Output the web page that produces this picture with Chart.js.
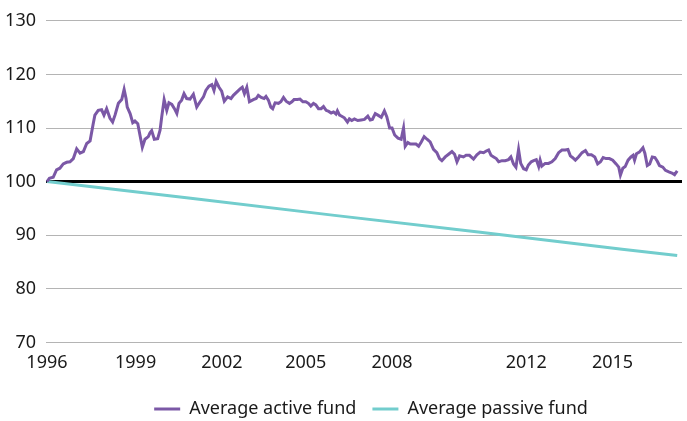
<!DOCTYPE html>
<html>
<head>
<meta charset="utf-8">
<script src="https://cdn.jsdelivr.net/npm/chart.js@4"></script>
<style>
html,body{margin:0;padding:0;background:#fff}
#wrap{width:687px;height:421px;position:relative}
</style>
</head>
<body>
<div id="wrap"><canvas id="c"></canvas></div>
<script>
// Months since Jan 1996 and index values
const activeMonths = [0,1,2.6,4,5.4,6.8,8.2,9.6,11,12.4,13.8,15.2,16.6,18,19.3,20,21.4,22.8,23.8,24.9,26.3,27.4,28.4,29.8,31.2,32.2,33,33.5,34.7,35.8,36.7,37.9,38.8,39.8,40.9,42.3,43,43.7,44.8,46.2,47.2,47.9,48.9,50,50.9,52.1,53.2,54.2,55.1,56.2,57.2,58.3,59.7,61.1,62.5,63.9,65.3,66.3,67.6,68.8,69.7,70.6,71.8,72.9,74,75.4,76.8,77.8,79.2,80.6,81.5,82.4,83.4,84.5,86.1,87.3,88.2,89.4,90.6,91.4,92.4,93.4,94.2,95.2,96.6,97.6,98.7,99.8,101.2,102.2,103.1,104.5,105.6,106.8,108,109.1,110.1,111.2,112.2,113.3,114.4,115.4,116.5,117.6,118.6,119.6,120.6,121.2,122.1,123,124.1,125.4,126.2,127.2,128.3,129.7,131.1,132.5,133.9,134.9,135.8,137,138.1,139.5,140.8,141.8,143,144,145.1,146.5,147.8,148.8,149.5,150.6,151.6,153,154,155.1,156.2,157.4,158.6,159.9,161.3,162.7,163.8,164.8,166.2,167.6,169,170.1,171.1,172.2,173.8,174.9,176.3,178,179.4,180.8,182.2,183.3,184.3,185.3,186.4,187.5,188.5,189.9,191.2,192.6,193.6,194.7,195.7,196.8,197.7,198.9,200,200.9,202.1,203.1,204.2,205.2,205.8,206.5,207.9,209.3,210.7,212.1,213.5,214.9,216.3,217.4,218.4,219.3,220.5,221.8,223.3,224.7,225.8,227.2,228.6,229.8,231,232.1,233.3,234.7,236.1,237.5,238.6,239.3,240.3,241.3,242.5,243.7,244.6,245.2,246,247.2,248.7,249.5,250.5,251.5,252.6,253.7,254.7,255.6,257,258.1,259.5,260.8,261.9,263];
const activeValues = [100.0,100.6,100.8,102.2,102.5,103.3,103.6,103.7,104.3,106.1,105.3,105.6,107.1,107.6,110.8,112.4,113.3,113.4,112.4,113.6,111.8,111.1,112.4,114.6,115.3,117.2,115.5,113.9,112.7,111.0,111.3,110.8,108.7,106.4,107.9,108.4,109.1,109.5,107.9,108.0,109.6,112.1,115.3,113.3,114.7,114.4,113.6,112.7,114.6,115.2,116.4,115.5,115.4,116.3,113.9,114.9,115.8,117.0,117.8,118.1,117.0,118.7,117.6,116.9,115.0,115.8,115.5,116.1,116.7,117.3,117.6,116.4,117.6,114.9,115.3,115.5,116.1,115.7,115.5,115.9,115.2,113.9,113.6,114.7,114.6,114.9,115.7,115.0,114.6,114.9,115.3,115.3,115.4,114.9,114.9,114.6,114.1,114.6,114.3,113.6,113.6,114.0,113.3,113.1,112.8,113.0,112.6,113.2,112.4,112.2,111.9,111.1,111.7,111.4,111.7,111.4,111.5,111.6,112.2,111.5,111.6,112.7,112.4,112.0,113.2,112.1,110.0,110.0,108.7,108.1,107.9,110.0,106.6,107.3,107.0,107.0,107.0,106.6,107.4,108.4,107.9,107.4,106.0,105.4,104.3,103.9,104.6,105.1,105.6,105.1,103.7,104.8,104.6,104.9,104.9,104.2,105.0,105.5,105.4,105.7,105.9,104.9,104.6,104.3,103.7,103.9,103.9,104.1,104.6,103.3,102.7,106.0,103.4,102.4,102.2,103.1,103.7,103.9,104.1,102.8,104.0,102.9,103.4,103.4,103.7,104.3,105.4,105.9,105.9,106.0,104.8,104.5,104.0,104.6,105.4,105.8,105.0,105.0,104.6,103.3,103.7,104.5,104.3,104.3,104.0,103.3,102.7,101.2,102.5,102.8,104.0,104.6,104.9,104.0,105.2,105.5,106.3,105.3,103.0,103.3,104.6,104.5,103.8,103.0,102.7,102.1,101.8,101.6,101.3,102.0];
const passiveMonths = [0,60,120,180,240,263];
const passiveValues = [100,96.9,93.7,90.6,87.4,86.2];
const tickMonths = [0,37,73,108,144,200,236];
const tickLabels = ['1996','1999','2002','2005','2008','2012','2015'];
const yTicks = [70,80,90,100,110,120,130];
const seriesNames = ['Average active fund','Average passive fund'];

const toPoints = (xs, ys) => xs.map((x, i) => ({x: x, y: ys[i]}));
const FONT = "'Noto Sans', 'Open Sans', sans-serif";
const TXT = '#1a1a1a';

// The reference legend sits a little right of the canvas centre
const shiftLegend = {
  id: 'shiftLegend',
  afterLayout(chart) {
    const l = chart.legend;
    if (l) { l.left += 30; l.right += 30; }
  }
};

new Chart(document.getElementById('c'), {
  type: 'line',
  plugins: [shiftLegend],
  data: {
    datasets: [
      {label: seriesNames[0], data: toPoints(activeMonths, activeValues), borderColor: '#7b58a6', backgroundColor: '#7b58a6', borderWidth: 3, pointRadius: 0, tension: 0},
      {label: seriesNames[1], data: toPoints(passiveMonths, passiveValues), borderColor: '#72cdcd', backgroundColor: '#72cdcd', borderWidth: 3, pointRadius: 0, tension: 0}
    ]
  },
  options: {
    responsive: true,
    maintainAspectRatio: false,
    animation: false,
    devicePixelRatio: 1,
    layout: {padding: {top: 13.5, right: 5, left: 0, bottom: -7}},
    plugins: {
      tooltip: {enabled: false},
      legend: {
        position: 'bottom',
        labels: {
          usePointStyle: true, pointStyle: 'line', pointStyleWidth: 26,
          color: TXT, font: {family: FONT, size: 18}, padding: 16
        }
      }
    },
    scales: {
      x: {
        type: 'linear', min: -0.4, max: 265,
        grid: {display: false, drawTicks: false},
        border: {display: false},
        afterBuildTicks: (axis) => { axis.ticks = tickMonths.map(v => ({value: v})); },
        ticks: {
          autoSkip: false, maxRotation: 0, padding: 10,
          color: TXT, font: {family: FONT, size: 18},
          callback: (v) => { const i = tickMonths.indexOf(v); return i >= 0 ? tickLabels[i] : ''; }
        }
      },
      y: {
        min: 70, max: 130,
        afterBuildTicks: (axis) => { axis.ticks = yTicks.map(v => ({value: v})); },
        afterFit: (s) => { s.width = 46; },
        grid: {
          drawTicks: false,
          color: (ctx) => ctx.tick && ctx.tick.value === 100 ? '#000000' : '#b4b4b4',
          lineWidth: (ctx) => ctx.tick && ctx.tick.value === 100 ? 3 : 1
        },
        border: {display: false},
        ticks: {padding: 10, color: TXT, font: {family: FONT, size: 18}}
      }
    }
  }
});
</script>
</body>
</html>
